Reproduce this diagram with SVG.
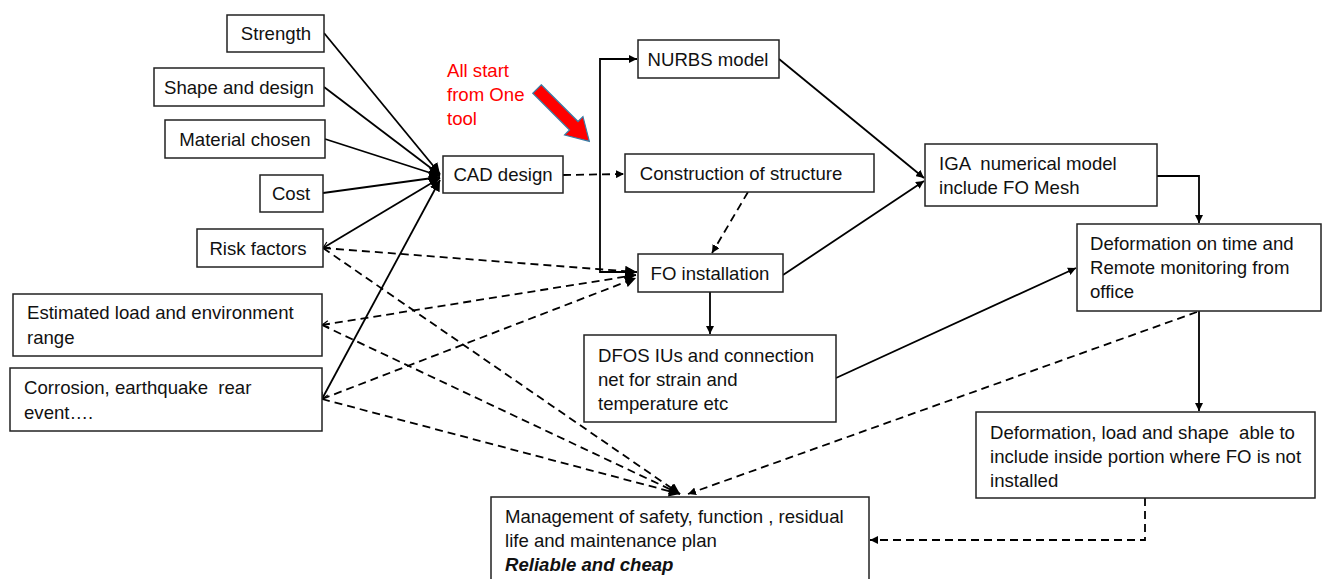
<svg xmlns="http://www.w3.org/2000/svg" width="1322" height="579" viewBox="0 0 1322 579">
<defs>
<style>
.box{fill:#fff;stroke:#222;stroke-width:1.5}
.t{font-family:"Liberation Sans",Arial,sans-serif;font-size:18.6px;fill:#111;white-space:pre}
.m{text-anchor:middle}
.red{fill:#f00}
.s{fill:none;stroke:#000;stroke-width:1.8}
.d{fill:none;stroke:#000;stroke-width:1.8;stroke-dasharray:8 5}
</style>
<marker id="ah" viewBox="0 0 10 10" refX="10" refY="5" markerWidth="8" markerHeight="8" markerUnits="userSpaceOnUse" orient="auto">
<path d="M0,0 L10,5 L0,10 z" fill="#000"/>
</marker>
<marker id="ah2" viewBox="0 0 10 10" refX="10" refY="5" markerWidth="11" markerHeight="11" markerUnits="userSpaceOnUse" orient="auto">
<path d="M0,0 L10,5 L0,10 z" fill="#000"/>
</marker>
<marker id="oa" viewBox="0 0 10 10" refX="1" refY="5" markerWidth="8" markerHeight="8" markerUnits="userSpaceOnUse" orient="auto">
<path d="M9,1 L1,5 L9,9" fill="none" stroke="#000" stroke-width="1.5"/>
</marker>
</defs>
<rect width="1322" height="579" fill="#fff"/>

<g id="connectors">
<line class="s" x1="324" y1="33" x2="440" y2="174" marker-end="url(#ah2)"/>
<line class="s" x1="324" y1="87" x2="440" y2="175" marker-end="url(#ah2)"/>
<line class="s" x1="325" y1="139" x2="440" y2="176" marker-end="url(#ah2)"/>
<line class="s" x1="323" y1="193" x2="440" y2="177" marker-end="url(#ah2)"/>
<line class="s" x1="323" y1="248" x2="440" y2="178" marker-start="url(#oa)" marker-end="url(#ah2)"/>
<line class="s" x1="322" y1="399" x2="440" y2="180" marker-start="url(#oa)" marker-end="url(#ah2)"/>
<line class="d" x1="323" y1="248" x2="636" y2="272" marker-end="url(#ah2)"/>
<line class="d" x1="323" y1="248" x2="680" y2="494" marker-end="url(#ah2)"/>
<line class="d" x1="322" y1="325" x2="636" y2="275" marker-start="url(#oa)" marker-end="url(#ah2)"/>
<line class="d" x1="322" y1="325" x2="680" y2="494" marker-end="url(#ah2)"/>
<line class="d" x1="322" y1="399" x2="636" y2="278" marker-end="url(#ah2)"/>
<line class="d" x1="322" y1="399" x2="680" y2="494" marker-end="url(#ah2)"/>
<line class="d" x1="563" y1="175" x2="624" y2="174" marker-end="url(#ah)"/>
<path class="s" d="M600,170 V59 H637" marker-end="url(#ah)"/>
<path class="s" d="M600,170 V272 H637" marker-end="url(#ah)"/>
<line class="d" x1="748" y1="192" x2="712" y2="253" marker-end="url(#ah)"/>
<line class="s" x1="779" y1="59" x2="924" y2="178" marker-end="url(#ah)"/>
<line class="s" x1="783" y1="275" x2="924" y2="181" marker-end="url(#ah)"/>
<line class="s" x1="710" y1="292" x2="710" y2="334" marker-end="url(#ah)"/>
<path class="s" d="M1157,176 H1199 V223" marker-end="url(#ah)"/>
<line class="s" x1="836" y1="378" x2="1076" y2="268" marker-end="url(#ah)"/>
<line class="s" x1="1199" y1="311" x2="1199" y2="411" marker-end="url(#ah)"/>
<line class="d" x1="1197" y1="312" x2="688" y2="494" marker-end="url(#ah)"/>
<path class="d" d="M1145,498 V540 H870" marker-end="url(#ah)"/>
</g>

<g id="n-strength"><rect class="box" x="227" y="15" width="97" height="37"/><text class="t m" x="276" y="40">Strength</text></g>
<g id="n-shape"><rect class="box" x="154" y="68" width="170" height="38"/><text class="t m" x="239" y="94">Shape and design</text></g>
<g id="n-material"><rect class="box" x="165" y="120" width="160" height="38"/><text class="t m" x="245" y="146">Material chosen</text></g>
<g id="n-cost"><rect class="box" x="260" y="175" width="63" height="37"/><text class="t m" x="291" y="200">Cost</text></g>
<g id="n-risk"><rect class="box" x="197" y="229" width="126" height="38"/><text class="t m" x="258" y="255">Risk factors</text></g>
<g id="n-estimated"><rect class="box" x="13" y="294" width="309" height="62"/><text class="t" x="27" y="319">Estimated load and environment</text><text class="t" x="27" y="344">range</text></g>
<g id="n-corrosion"><rect class="box" x="10" y="368" width="312" height="63"/><text class="t" x="24" y="394" xml:space="preserve">Corrosion, earthquake  rear</text><text class="t" x="24" y="419">event….</text></g>
<g id="n-cad"><rect class="box" x="443" y="156" width="120" height="37"/><text class="t m" x="503" y="181">CAD design</text></g>
<g id="n-nurbs"><rect class="box" x="638" y="40" width="141" height="38"/><text class="t m" x="708" y="66">NURBS model</text></g>
<g id="n-construction"><rect class="box" x="625" y="154" width="249" height="38"/><text class="t m" x="741" y="180">Construction of structure</text></g>
<g id="n-fo"><rect class="box" x="638" y="254" width="145" height="38"/><text class="t m" x="710" y="280">FO installation</text></g>
<g id="n-iga"><rect class="box" x="925" y="144" width="232" height="62"/><text class="t" x="939" y="170" xml:space="preserve">IGA  numerical model</text><text class="t" x="939" y="194">include FO Mesh</text></g>
<g id="n-deftime"><rect class="box" x="1077" y="224" width="244" height="87"/><text class="t" x="1090" y="250">Deformation on time and</text><text class="t" x="1090" y="274">Remote monitoring from</text><text class="t" x="1090" y="298">office</text></g>
<g id="n-dfos"><rect class="box" x="584" y="335" width="252" height="87"/><text class="t" x="598" y="362">DFOS IUs and connection</text><text class="t" x="598" y="386">net for strain and</text><text class="t" x="598" y="410">temperature etc</text></g>
<g id="n-defload"><rect class="box" x="976" y="412" width="339" height="86"/><text class="t" x="990" y="439" xml:space="preserve">Deformation, load and shape  able to</text><text class="t" x="990" y="463">include inside portion where FO is not</text><text class="t" x="990" y="487">installed</text></g>
<g id="n-management"><rect class="box" x="491" y="497" width="378" height="90"/><text class="t" x="505" y="523">Management of safety, function , residual</text><text class="t" x="505" y="547">life and maintenance plan</text><text class="t" x="505" y="571" font-weight="bold" font-style="italic">Reliable and cheap</text></g>

<g id="note">
<text class="t red" x="447" y="77">All start</text>
<text class="t red" x="447" y="101">from One</text>
<text class="t red" x="447" y="125">tool</text>
<g transform="translate(537,89) rotate(45)">
<path d="M0,-6 H52 V-13 L74,0 L52,13 V6 H0 Z" fill="#f00" stroke="#3a7ca5" stroke-width="1.2"/>
</g>
</g>
</svg>
